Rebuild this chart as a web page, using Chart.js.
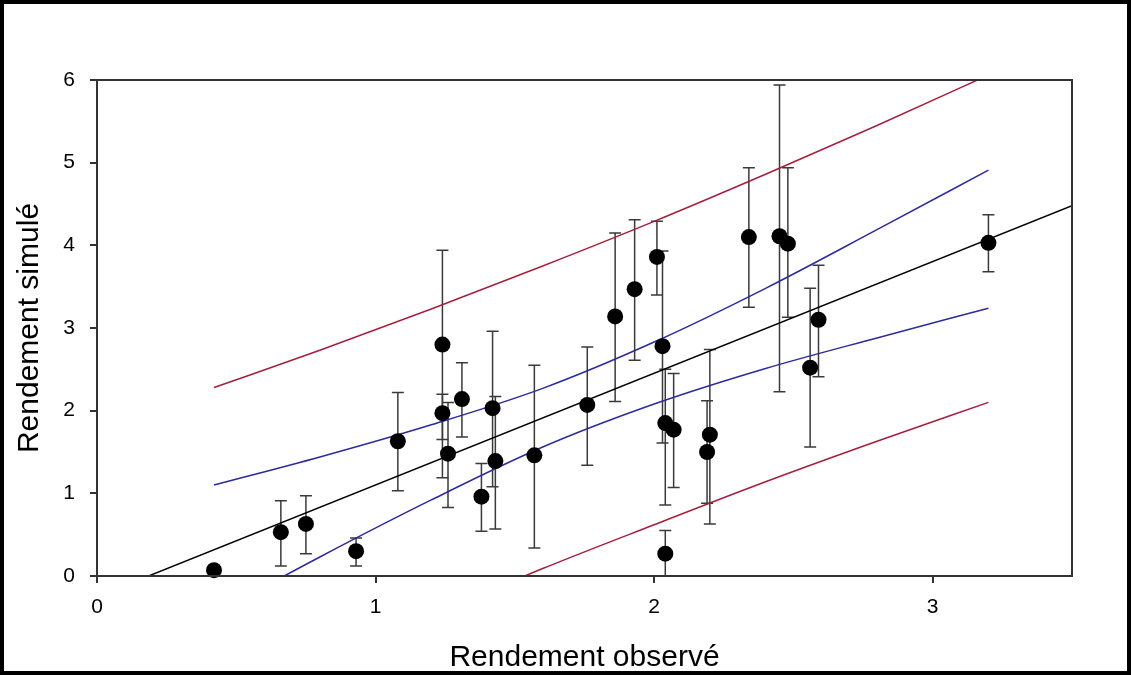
<!DOCTYPE html>
<html lang="fr">
<head>
    <meta charset="UTF-8">
    <title>Rendement simulé vs rendement observé</title>
    <script src="https://cdn.jsdelivr.net/npm/chart.js"></script>
    <style>
        html, body { margin: 0; padding: 0; background: #fff; }
        .frame {
            box-sizing: border-box;
            width: 1131px;
            height: 675px;
            border: 4px solid #000;
        }
        .frame canvas { display: block; }
    </style>
</head>
<body>
<div class="frame">
    <canvas id="rendementChart" width="1123" height="667"></canvas>
</div>
<script>
    // observed / simulated yields, with the error bar ends
    const obsX    = [0.42, 0.66, 0.75, 0.93, 1.08, 1.24, 1.24, 1.26, 1.31, 1.42, 1.43, 1.38, 1.57, 1.76, 1.86, 1.93, 2.01, 2.03, 2.04, 2.07, 2.04, 2.19, 2.20, 2.34, 2.45, 2.48, 2.59, 2.56, 3.20];
    const simY    = [0.07, 0.53, 0.63, 0.30, 1.63, 2.80, 1.97, 1.48, 2.14, 2.03, 1.39, 0.96, 1.46, 2.07, 3.14, 3.47, 3.86, 2.78, 1.85, 1.77, 0.27, 1.50, 1.71, 4.10, 4.11, 4.02, 3.10, 2.52, 4.03];
    const errLow  = [null, 0.12, 0.27, 0.12, 1.03, 1.65, 1.19, 0.83, 1.68, 1.08, 0.57, 0.54, 0.34, 1.34, 2.11, 2.61, 3.40, 1.61, 0.86, 1.07, 0.00, 0.88, 0.63, 3.25, 2.23, 3.13, 2.41, 1.56, 3.68];
    const errHigh = [null, 0.91, 0.97, 0.46, 2.22, 3.94, 2.20, 2.10, 2.58, 2.96, 2.17, 1.36, 2.55, 2.77, 4.15, 4.31, 4.29, 3.93, 2.50, 2.45, 0.55, 2.12, 2.74, 4.94, 5.94, 4.94, 3.76, 3.48, 4.37];

    // regression line
    const fitX = [0, 3.5];
    const fitY = [-0.25, 4.48];

    // confidence (blue) and prediction (red) bands
    const bandX     = [0.42, 0.8, 1.2, 1.6, 2.0, 2.4, 2.8, 3.2];
    const confUpper = [1.10, 1.44, 1.83, 2.27, 2.83, 3.48, 4.19, 4.91];
    const confLower = [-0.46, 0.23, 0.92, 1.56, 2.08, 2.51, 2.88, 3.24];
    const predUpper = [2.28, 2.73, 3.23, 3.75, 4.29, 4.86, 5.45, 6.06];
    const predLower = [-1.64, -1.06, -0.48, 0.09, 0.62, 1.14, 1.63, 2.10];

    const xTicks = [0, 1, 2, 3];

    const toPoints = (xs, ys) => xs.map((x, i) => ({ x: x, y: ys[i] }));

    const errorBars = {
        id: 'errorBars',
        beforeDatasetsDraw(chart) {
            const { ctx, chartArea, scales: { x, y } } = chart;
            ctx.save();
            ctx.beginPath();
            ctx.rect(chartArea.left, chartArea.top - 2, chartArea.width, chartArea.height + 2);
            ctx.clip();
            ctx.strokeStyle = '#3a3a3a';
            ctx.lineWidth = 1.5;
            obsX.forEach((v, i) => {
                if (errLow[i] === null) return;
                const px = x.getPixelForValue(v);
                const top = y.getPixelForValue(errHigh[i]);
                const bot = y.getPixelForValue(errLow[i]);
                ctx.beginPath();
                ctx.moveTo(px, top); ctx.lineTo(px, bot);
                ctx.moveTo(px - 6, top); ctx.lineTo(px + 6, top);
                ctx.moveTo(px - 6, bot); ctx.lineTo(px + 6, bot);
                ctx.stroke();
            });
            ctx.restore();
        }
    };

    const plotBox = {
        id: 'plotBox',
        afterDraw(chart) {
            const { ctx, chartArea } = chart;
            ctx.save();
            ctx.strokeStyle = '#333';
            ctx.lineWidth = 2;
            ctx.strokeRect(chartArea.left, chartArea.top, chartArea.width, chartArea.height);
            ctx.restore();
        }
    };

    const bandLine = (data, color) => ({
        type: 'line',
        data: data,
        borderColor: color,
        borderWidth: 1.5,
        pointRadius: 0,
        fill: false,
        cubicInterpolationMode: 'monotone'
    });

    const ctx = document.getElementById('rendementChart').getContext('2d');
    new Chart(ctx, {
        type: 'scatter',
        data: {
            datasets: [
                {
                    label: 'Rendement',
                    data: toPoints(obsX, simY),
                    backgroundColor: '#000',
                    borderWidth: 0,
                    pointRadius: 8,
                    clip: false
                },
                bandLine(toPoints(fitX, fitY), '#000'),
                bandLine(toPoints(bandX, confUpper), '#2b2b9c'),
                bandLine(toPoints(bandX, confLower), '#2b2b9c'),
                bandLine(toPoints(bandX, predUpper), '#a3203c'),
                bandLine(toPoints(bandX, predLower), '#a3203c')
            ]
        },
        options: {
            responsive: false,
            animation: false,
            layout: { padding: { top: 76, right: 55, left: 0, bottom: 0 } },
            plugins: {
                legend: { display: false },
                tooltip: { enabled: false }
            },
            scales: {
                x: {
                    type: 'linear',
                    min: 0,
                    max: 3.5,
                    afterBuildTicks: s => { s.ticks = xTicks.map(v => ({ value: v })); },
                    afterFit: s => { s.height = 95; },
                    grid: { display: true, drawOnChartArea: false, drawTicks: true, tickLength: 7, color: '#333', lineWidth: 2 },
                    border: { display: true, color: '#333', width: 2 },
                    ticks: { color: '#000', padding: 12, font: { family: 'Liberation Sans, Arial', size: 21 } },
                    title: {
                        display: true,
                        text: 'Rendement observé',
                        color: '#000',
                        padding: { top: 0, bottom: 0 },
                        font: { family: 'Liberation Sans, Arial', size: 30, lineHeight: 0.9 }
                    }
                },
                y: {
                    min: 0,
                    max: 6,
                    ticks: { stepSize: 1, color: '#000', padding: 15, font: { family: 'Liberation Sans, Arial', size: 21 } },
                    afterFit: s => { s.width = 93; },
                    grid: { display: true, drawOnChartArea: false, drawTicks: true, tickLength: 7, color: '#333', lineWidth: 2 },
                    border: { display: true, color: '#333', width: 2 },
                    title: {
                        display: true,
                        text: 'Rendement simulé',
                        color: '#000',
                        padding: { top: 11, bottom: 0 },
                        font: { family: 'Liberation Sans, Arial', size: 30, lineHeight: 1 }
                    }
                }
            }
        },
        plugins: [errorBars, plotBox]
    });
</script>
</body>
</html>
